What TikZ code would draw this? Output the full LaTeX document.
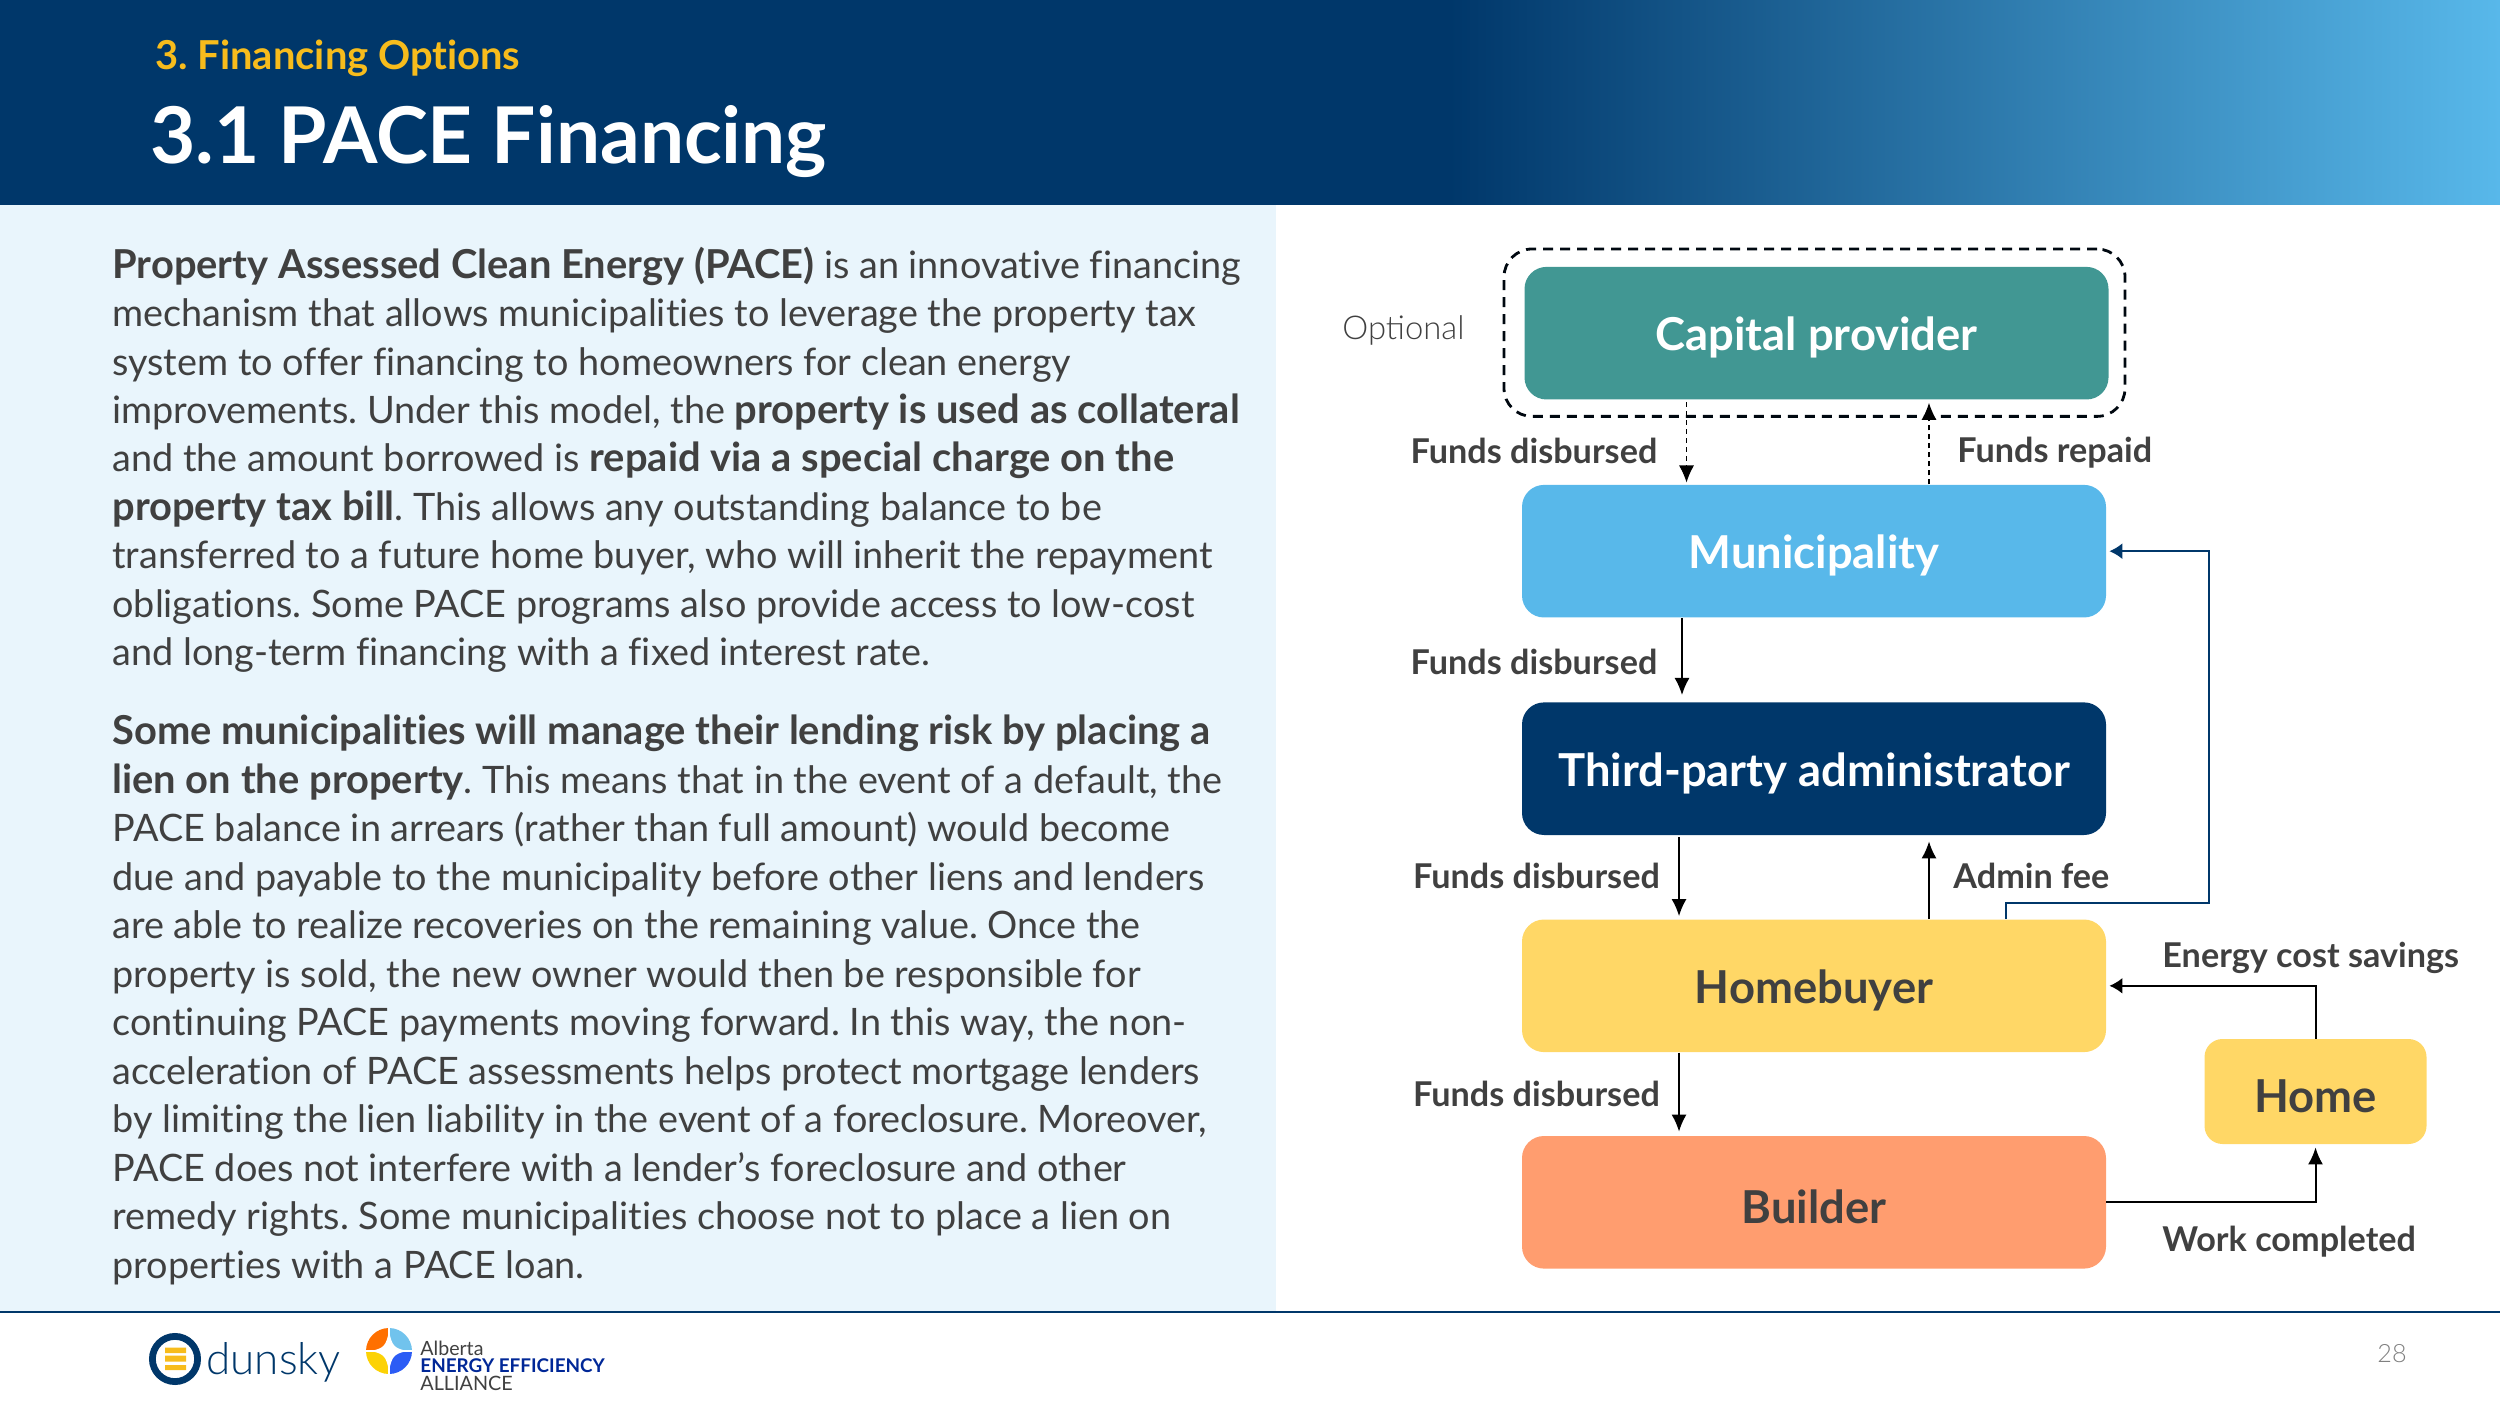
\documentclass[tikz,border=0pt]{standalone}
\usepackage{fontspec}
\usetikzlibrary{arrows.meta}
\setmainfont{Lato}[BoldFeatures={Scale=1.055},Ligatures=NoCommon]
\newfontfamily\lightfont{Lato Light}
\frenchspacing
\newcommand{\boxtext}[1]{\raisebox{-2.2pt}[\height][\depth]{#1}}
\definecolor{navy}{HTML}{00376A}
\definecolor{sky}{HTML}{58B8EA}
\definecolor{teal1}{HTML}{419793}
\definecolor{sun}{HTML}{FFD766}
\definecolor{coral}{HTML}{FF9D6F}
\definecolor{ink}{HTML}{404040}
\definecolor{pane}{HTML}{E9F5FC}
\definecolor{gold}{HTML}{F7BC1C}
\tikzset{
  x=0.5pt,y=-0.5pt,
  flowbox/.style={rounded corners=11pt,inner sep=0pt,minimum width=292pt,minimum height=66.3pt,font=\fontsize{21.5}{24}\selectfont\bfseries},
  flowlabel/.style={font=\fontsize{16.2}{19}\selectfont\bfseries,text=ink,inner sep=0pt},
  flow/.style={draw=black,line width=0.8pt,-{Latex[length=8.5pt,width=7.5pt]}},
  dashflow/.style={flow,line width=0.55pt,dash pattern=on 2.5pt off 2pt},
  returnflow/.style={draw=navy,line width=0.8pt,-{Latex[length=6.5pt,width=8pt]},rounded corners=0pt},
}
\begin{document}
\begin{tikzpicture}
\useasboundingbox (0,0) rectangle (2500,1416);
% header
\fill[navy] (0,0) rectangle (1450,205);
\shade[left color=navy,right color=sky,shading angle=90,draw=none] (1449,0) rectangle (2500,205);
\fill[pane] (0,205) rectangle (1276,1311);
\draw[navy,line width=0.9pt] (0,1312) -- (2500,1312);
\node[anchor=west,inner sep=0pt,text=gold,font=\fontsize{18.9}{22}\selectfont\bfseries] (section) at (155,58) {3. Financing Options};
\node[anchor=west,inner sep=0pt,text=white,font=\fontsize{37.1}{40}\selectfont\bfseries] (title) at (150,142) {3.1 PACE Financing};
% body
\node[anchor=north west,inner sep=0pt,align=left,text=ink,font=\fontsize{18.9}{24.2}\selectfont] (para1) at (112,246.5) {%
\textbf{Property Assessed Clean Energy (PACE)} is an innovative financing\\
mechanism that allows municipalities to leverage the property tax\\
system to offer financing to homeowners for clean energy\\
improvements. Under this model, the \textbf{property is used as collateral}\\
and the amount borrowed is \textbf{repaid via a special charge on the}\\
\textbf{property tax bill}. This allows any outstanding balance to be\\
transferred to a future home buyer, who will inherit the repayment\\
obligations. Some PACE programs also provide access to low-cost\\
and long-term financing with a fixed interest rate.};
\node[anchor=north west,inner sep=0pt,align=left,text=ink,font=\fontsize{18.9}{24.25}\selectfont] (para2) at (112,714.5) {%
\textbf{Some municipalities will manage their lending risk by placing a}\\
\textbf{lien on the property}. This means that in the event of a default, the\\
PACE balance in arrears (rather than full amount) would become\\
due and payable to the municipality before other liens and lenders\\
are able to realize recoveries on the remaining value. Once the\\
property is sold, the new owner would then be responsible for\\
continuing PACE payments moving forward. In this way, the non-\\
acceleration of PACE assessments helps protect mortgage lenders\\
by limiting the lien liability in the event of a foreclosure. Moreover,\\
PACE does not interfere with a lender’s foreclosure and other\\
remedy rights. Some municipalities choose not to place a lien on\\
properties with a PACE loan.};
% flow boxes
\node[draw=black!85!navy,line width=1.4pt,dash pattern=on 5pt off 3.5pt,rounded corners=14pt,minimum width=310.5pt,minimum height=83.7pt,inner sep=0pt] (optbox) at (1814.5,332.7) {};
\node[flowbox,fill=teal1,text=white,minimum height=66.3pt] (capital) at (1816.5,333.2) {\boxtext{Capital provider}};
\node[flowbox,fill=sky,text=white] (muni) at (1814,551.2) {\boxtext{Municipality}};
\node[flowbox,fill=navy,text=white] (admin) at (1814,768.7) {\boxtext{Third-party administrator}};
\node[flowbox,fill=sun,text=ink] (buyer) at (1814,985.8) {\boxtext{Homebuyer}};
\node[flowbox,fill=coral,text=ink] (builder) at (1814,1202.3) {\boxtext{Builder}};
\node[flowbox,fill=sun,text=ink,minimum width=111pt,minimum height=52.5pt,rounded corners=9pt] (home) at (2315.5,1091.5) {\boxtext{Home}};
% guides
\coordinate (gdown) at (1686.5,0);
\coordinate (gup) at (1929,0);
\coordinate (gm) at (1682,0);
\coordinate (gt) at (1679,0);
\coordinate (gback) at (2006,903);
\coordinate (gright) at (2209,903);
% connectors
\draw[dashflow,shorten <=1.3pt,shorten >=1pt] (capital.south -| gdown) -- (muni.north -| gdown);
\draw[dashflow,shorten <=0pt,shorten >=1.5pt] (muni.north -| gup) -- (capital.south -| gup);
\draw[flow,shorten >=3.5pt] (muni.south -| gm) -- (admin.north -| gm);
\draw[flow,shorten <=1pt,shorten >=1.5pt] (admin.south -| gt) -- (buyer.north -| gt);
\draw[flow,shorten >=3pt] (buyer.north -| gup) -- (admin.south -| gup);
\draw[flow] (buyer.south -| gt) -- ([yshift=2pt]builder.north -| gt);
\draw[returnflow,shorten >=1.5pt] (buyer.north -| gback) -- (gback) -- (gright) -- (gright |- muni.east) -- (muni.east);
\draw[flow,line width=1pt,-{Latex[length=6.5pt,width=8pt]},shorten >=1.5pt] (home.north) |- (buyer.east);
\draw[flow,line width=1pt,shorten >=1.5pt] (builder.east) -| (home.south);
% labels
\node[flowlabel] (l1) at (1534,451) {Funds disbursed};
\node[flowlabel] (l2) at (1534,662) {Funds disbursed};
\node[flowlabel] (l3) at (1536.5,876) {Funds disbursed};
\node[flowlabel] (l4) at (1536.5,1094) {Funds disbursed};
\node[flowlabel,anchor=west] (l5) at (1957,453) {Funds repaid};
\node[flowlabel,anchor=west] (l6) at (1953,875.5) {Admin fee};
\node[flowlabel,anchor=west] (l7) at (2162,957.5) {Energy cost savings};
\node[flowlabel,anchor=west] (l8) at (2162,1241.5) {Work completed};
\node[anchor=west,inner sep=0pt,text=ink,font=\lightfont\fontsize{16.4}{18}\selectfont] (optional) at (1342,330) {Optional};
\node[inner sep=0pt,text=black!50,font=\lightfont\fontsize{12.6}{14}\selectfont] (page) at (2392,1354) {28};
% dunsky logo
\draw[navy,line width=3.4pt] (175,1359) circle [radius=11.3pt];
\fill[gold] (165,1347.5) rectangle (186,1353) (165,1355.5) rectangle (186,1361.5) (165,1365) rectangle (186,1370);
\node[anchor=west,inner sep=0pt,text=navy,font=\lightfont\fontsize{22}{25}\selectfont] (dunsky) at (206,1362) {dunsky};
% alliance logo
\begin{scope}
\clip (389,1351) circle [radius=11.5pt];
\fill[orange!75!red!90!yellow] (366,1328) rectangle (389,1351);
\fill[sky!85!white] (389,1328) rectangle (412,1351);
\fill[yellow!70!orange] (366,1351) rectangle (389,1374);
\fill[blue!50!sky] (389,1351) rectangle (412,1374);
\draw[white,line width=0.8pt] (389,1328) -- (389,1374) (366,1351) -- (412,1351);
\fill[white] (389,1331) .. controls (392,1346) and (394,1348) .. (407,1351) .. controls (394,1354) and (392,1356) .. (389,1371) .. controls (386,1356) and (384,1354) .. (371,1351) .. controls (384,1348) and (386,1346) .. (389,1331) -- cycle;
\end{scope}
\node[anchor=west,inner sep=0pt,text=ink,font=\fontsize{9.8}{11}\selectfont] (a1) at (420,1348) {Alberta};
\node[anchor=west,inner sep=0pt,text=navy!70!blue,font=\fontsize{8.95}{11}\selectfont\bfseries] (a2) at (420,1366) {ENERGY EFFICIENCY};
\node[anchor=west,inner sep=0pt,text=ink,font=\fontsize{9.9}{11}\selectfont] (a3) at (420,1383) {ALLIANCE};
\end{tikzpicture}
\end{document}
